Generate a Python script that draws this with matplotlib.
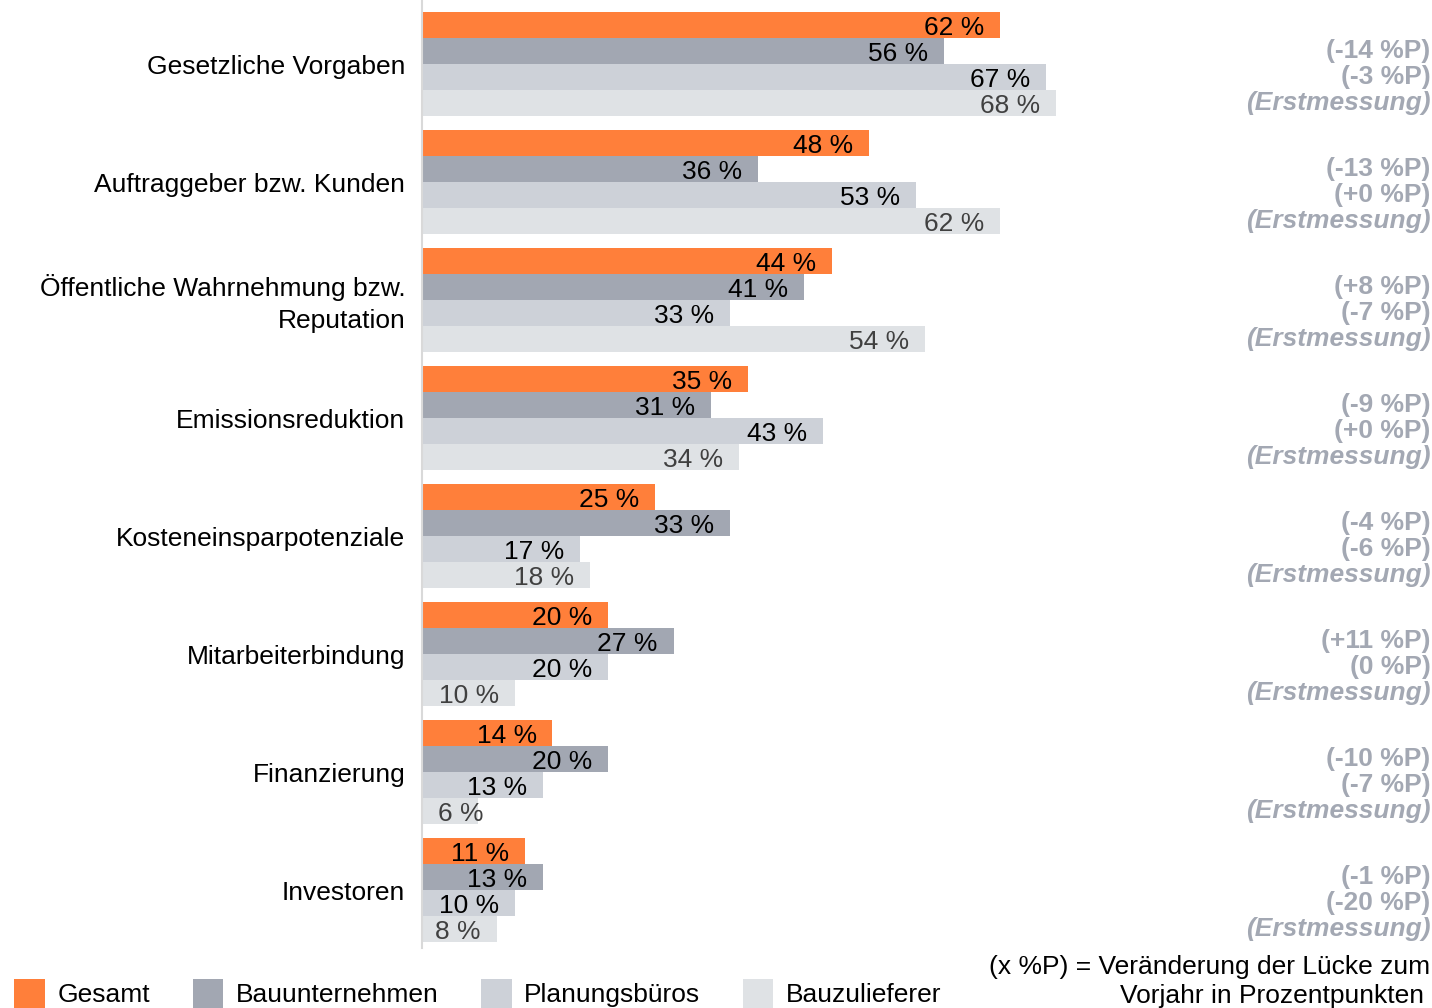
import matplotlib.pyplot as plt
from matplotlib.patches import Patch

plt.rcParams['font.family'] = ['Liberation Sans', 'DejaVu Sans']

# Daten
kategorien = ['Gesetzliche Vorgaben', 'Auftraggeber bzw. Kunden',
              'Öffentliche Wahrnehmung bzw.\nReputation', 'Emissionsreduktion',
              'Kosteneinsparpotenziale', 'Mitarbeiterbindung', 'Finanzierung', 'Investoren']
gesamt = [62, 48, 44, 35, 25, 20, 14, 11]
bauunternehmen = [56, 36, 41, 31, 33, 27, 20, 13]
planungsbueros = [67, 53, 33, 43, 17, 20, 13, 10]
bauzulieferer = [68, 62, 54, 34, 18, 10, 6, 8]
delta_bau = ['(-14 %P)', '(-13 %P)', '(+8 %P)', '(-9 %P)', '(-4 %P)', '(+11 %P)', '(-10 %P)', '(-1 %P)']
delta_planung = ['(-3 %P)', '(+0 %P)', '(-7 %P)', '(+0 %P)', '(-6 %P)', '(0 %P)', '(-7 %P)', '(-20 %P)']
serien_namen = ['Gesamt', 'Bauunternehmen', 'Planungsbüros', 'Bauzulieferer']

farben = ['#FF7F3A', '#A2A7B2', '#CDD1D8', '#DFE2E5']
label_farben = ['black', 'black', 'black', '#404040']
grau_text = '#A3A8B3'
fs = 19

W, H = 1432, 1008
fig = plt.figure(figsize=(W / 100, H / 100), dpi=100)
ax = fig.add_axes([422 / W, 1 - 948 / H, 1 - 422 / W, 948 / H])

pitch = 118 / 26  # Abstand der Gruppen in Balkenhoehen
serien = [gesamt, bauunternehmen, planungsbueros, bauzulieferer]

for i in range(len(kategorien)):
    for j, werte in enumerate(serien):
        y = i * pitch + j
        v = werte[i]
        ax.barh(y, v, height=1.0, color=farben[j], edgecolor='none')
        if v < 7:
            ax.text(1.7, y + 0.1, f'{v} %', ha='left', va='center',
                    fontsize=fs, color=label_farben[j])
        else:
            ax.text(v - 1.7, y + 0.1, f'{v} %', ha='right', va='center',
                    fontsize=fs, color=label_farben[j])
    # Kategorie links
    ax.text(-1.8, i * pitch + 1.63, kategorien[i], ha='right', va='center',
            fontsize=fs, multialignment='right', linespacing=1.45, clip_on=False)
    # Veraenderungen rechts
    ax.text(108.2, i * pitch + 1, delta_bau[i], ha='right', va='center',
            fontsize=fs, fontweight='bold', color=grau_text, clip_on=False)
    ax.text(108.2, i * pitch + 2, delta_planung[i], ha='right', va='center',
            fontsize=fs, fontweight='bold', color=grau_text, clip_on=False)
    ax.text(108.2, i * pitch + 3, '(Erstmessung)', ha='right', va='center',
            fontsize=fs, fontweight='bold', fontstyle='italic', color=grau_text, clip_on=False)

ax.set_xlim(0, 1010 / 9.32)
ax.set_ylim(35.5, -0.96)
for s in ['top', 'right', 'bottom']:
    ax.spines[s].set_visible(False)
ax.spines['left'].set_color('#D9D9D9')
ax.spines['left'].set_linewidth(1.5)
ax.set_xticks([])
ax.set_yticks([])

# Legende
handles = [Patch(facecolor=farben[k], edgecolor='none') for k in range(4)]
fig.legend(handles, serien_namen, loc='upper left', bbox_to_anchor=(0.010, 1 - 979 / H),
           ncol=4, frameon=False, fontsize=fs, handlelength=1.15, handleheight=1.3,
           handletextpad=0.48, columnspacing=1.62, borderaxespad=0, borderpad=0)

# Hinweis unten rechts
fig.text(1430 / W, 1 - 967 / H, '(x %P) = Veränderung der Lücke zum',
         ha='right', va='center', fontsize=fs)
fig.text(1424 / W, 1 - 996 / H, 'Vorjahr in Prozentpunkten',
         ha='right', va='center', fontsize=fs)

fig.savefig('out.png', dpi=100)
